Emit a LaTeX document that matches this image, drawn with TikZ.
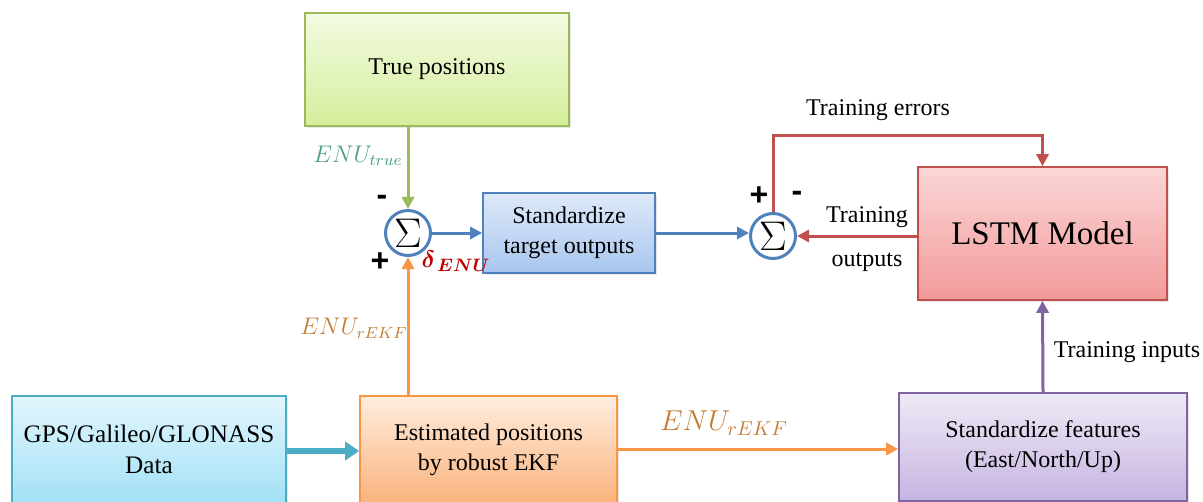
\documentclass[tikz,border=0pt]{standalone}
\usepackage{bm}
\usepackage{fontspec}
\setmainfont{Liberation Serif}
\setsansfont{Liberation Sans}
\usetikzlibrary{arrows.meta,shadows}

\definecolor{grntop}{HTML}{F3FBE2}
\definecolor{grnbot}{HTML}{D5EE9C}
\definecolor{grnline}{HTML}{9BBB59}
\definecolor{bluetop}{HTML}{DEE9F9}
\definecolor{bluebot}{HTML}{A8C6EE}
\definecolor{blueline}{HTML}{4F81BD}
\definecolor{redtop}{HTML}{FBD6D6}
\definecolor{redbot}{HTML}{F29A9A}
\definecolor{redline}{HTML}{C0504D}
\definecolor{cyantop}{HTML}{E2F6FD}
\definecolor{cyanbot}{HTML}{A2E1F6}
\definecolor{cyanline}{HTML}{4BACC6}
\definecolor{orgtop}{HTML}{FEEDDF}
\definecolor{orgbot}{HTML}{FAB37C}
\definecolor{orgline}{HTML}{F79646}
\definecolor{purtop}{HTML}{EFEAF6}
\definecolor{purbot}{HTML}{C6B4E1}
\definecolor{purline}{HTML}{8064A2}
\definecolor{enutrue}{HTML}{4CA07A}
\definecolor{enuekf}{HTML}{C47C34}
\definecolor{deltared}{HTML}{C00000}

\tikzset{
  block/.style = {rectangle, align=center, line width=0.8pt, font=\rmfamily\fontsize{12}{15}\selectfont,
    drop shadow={opacity=0.18, shadow xshift=0.9pt, shadow yshift=-0.9pt}},
  truebox/.style = {block, draw=grnline, top color=grntop, bottom color=grnbot},
  stdbox/.style = {block, draw=blueline, top color=bluetop, bottom color=bluebot},
  lstmbox/.style = {block, draw=redline, top color=redtop, bottom color=redbot, font=\rmfamily\fontsize{16.5}{20}\selectfont},
  gnssbox/.style = {block, draw=cyanline, top color=cyantop, bottom color=cyanbot, font=\rmfamily\fontsize{12.6}{15.5}\selectfont},
  ekfbox/.style = {block, draw=orgline, top color=orgtop, bottom color=orgbot},
  featbox/.style = {block, draw=purline, top color=purtop, bottom color=purbot},
  sumnode/.style = {circle, draw=blueline, line width=1.5pt, fill=white, minimum size=22.5pt,
    inner sep=0pt, font=\fontsize{20}{20}\selectfont},
  conn/.style = {line width=1.5pt, -{Triangle[length=6pt,width=6pt]}},
  lbl/.style = {font=\rmfamily\fontsize{12}{14}\selectfont},
  sign/.style = {font=\sffamily\bfseries\fontsize{16}{16}\selectfont},
}

\begin{document}
\begin{tikzpicture}[x=0.5pt,y=-0.5pt]
\useasboundingbox (0,0) rectangle (1203,502);
\clip (0,0) rectangle (1203,502);

% blocks
\node [truebox, minimum width=132pt, minimum height=56.5pt] (truepos) at (437,69.5) {True positions};
\node [stdbox, minimum width=86pt, minimum height=40pt] (stdtarget) at (569,233) {Standardize\\target outputs};
\node [lstmbox, minimum width=124.5pt, minimum height=66.5pt] (lstm) at (1042.5,233.5) {LSTM Model};
\node [gnssbox, minimum width=137pt, minimum height=53.5pt] (gnss) at (149,449.5) {GPS/Galileo/GLONASS\\Data};
\node [ekfbox, minimum width=128.5pt, minimum height=53.5pt] (ekf) at (488.5,449.5) {Estimated positions\\by robust EKF};
\node [featbox, minimum width=144pt, minimum height=54pt] (feat) at (1043,447) {Standardize features\\(East/North/Up)};

% summing junctions
\node [sumnode] (sumA) at (408,233) {$\Sigma$};
\node [sumnode] (sumB) at (773,236) {$\Sigma$};
\coordinate (errturn) at (1042.5,136);

% connectors
\draw [conn, grnline] (truepos.south -| sumA) -- (sumA.north);
\draw [conn, orgline] (ekf.north -| sumA) -- (sumA.south);
\draw [conn, blueline] (sumA.east) -- (stdtarget.west);
\draw [conn, blueline] (stdtarget.east) -- (stdtarget.east -| sumB.west);
\draw [conn, redline] (lstm.west |- sumB) -- (sumB.east);
\draw [conn, redline] (sumB.north) |- (errturn) -- (lstm.north);
\draw [conn, purline] (feat.north) -- (lstm.south);
\draw [cyanline, line width=3pt, -{Triangle[length=7pt,width=9pt]}] (gnss.east |- 0,451) -- (ekf.west |- 0,451);
\draw [conn, orgline] (ekf.east |- 0,449) -- (feat.west |- 0,449);

% labels
\node [enutrue, font=\fontsize{11.5}{13}\selectfont] (lbltrue) at (358,156) {$ENU_{true}$};
\node [enuekf, font=\fontsize{11.5}{13}\selectfont] (lblekfa) at (354,328) {$ENU_{rEKF}$};
\node [enuekf, font=\fontsize{14.5}{17}\selectfont] (lblekfb) at (724,423) {$ENU_{rEKF}$};
\node [deltared, font=\fontsize{13}{15}\selectfont] (lbldelta) at (456,261) {$\bm{\delta}_{\,\bm{ENU}}$};
\node [sign] (minusA) at (382,200) {-};
\node [sign] (plusA) at (380,262) {+};
\node [sign] (plusB) at (759,196) {+};
\node [sign] (minusB) at (797,196) {-};
\node [lbl] (lblerr) at (878,110) {Training errors};
\node [lbl] (lblouta) at (867,217) {Training};
\node [lbl] (lbloutb) at (867,262) {outputs};
\node [lbl] (lblin) at (1127,352) {Training inputs};
\end{tikzpicture}
\end{document}
